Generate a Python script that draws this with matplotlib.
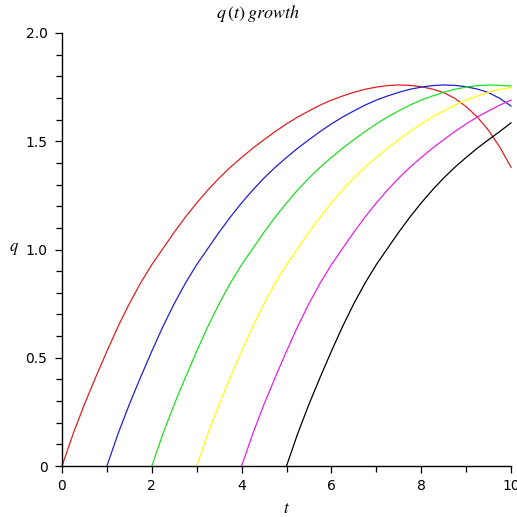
import numpy as np
import matplotlib
matplotlib.use("Agg")
import matplotlib.pyplot as plt
from matplotlib.ticker import MultipleLocator

# Data: q values at t = start, start+0.25, ..., 10
red_t0 = 0.0
red_q = [0, 0.15, 0.285, 0.41, 0.53, 0.645, 0.75, 0.845, 0.93, 1.005,
         1.08, 1.15, 1.215, 1.275, 1.33, 1.38, 1.425, 1.468, 1.507, 1.545,
         1.58, 1.612, 1.64, 1.667, 1.69, 1.709, 1.726, 1.74, 1.75, 1.757,
         1.76, 1.758, 1.752, 1.741, 1.725, 1.698, 1.66, 1.612, 1.55, 1.473,
         1.38]
blue_t0 = 1.0
blue_q = [0, 0.15, 0.285, 0.41, 0.53, 0.645, 0.75, 0.845, 0.93, 1.005,
          1.08, 1.15, 1.215, 1.275, 1.33, 1.38, 1.425, 1.468, 1.507, 1.545,
          1.58, 1.612, 1.64, 1.667, 1.69, 1.709, 1.726, 1.74, 1.75, 1.757,
          1.76, 1.758, 1.752, 1.741, 1.725, 1.698, 1.663]
green_t0 = 2.0
green_q = [0, 0.15, 0.285, 0.41, 0.53, 0.645, 0.75, 0.845, 0.93, 1.005,
           1.08, 1.15, 1.215, 1.275, 1.33, 1.38, 1.425, 1.468, 1.507, 1.545,
           1.58, 1.612, 1.64, 1.667, 1.69, 1.709, 1.726, 1.74, 1.75, 1.757,
           1.76, 1.758, 1.755]
yellow_t0 = 3.0
yellow_q = [0, 0.15, 0.285, 0.41, 0.53, 0.645, 0.75, 0.845, 0.93, 1.005,
            1.08, 1.15, 1.215, 1.275, 1.33, 1.38, 1.425, 1.468, 1.507, 1.545,
            1.58, 1.612, 1.64, 1.667, 1.69, 1.709, 1.726, 1.74, 1.748]
magenta_t0 = 4.0
magenta_q = [0, 0.15, 0.285, 0.41, 0.53, 0.645, 0.75, 0.845, 0.93, 1.005,
             1.08, 1.15, 1.215, 1.275, 1.33, 1.38, 1.425, 1.468, 1.507, 1.545,
             1.58, 1.612, 1.64, 1.667, 1.69]
black_t0 = 5.0
black_q = [0, 0.15, 0.285, 0.41, 0.53, 0.645, 0.75, 0.845, 0.93, 1.005,
           1.08, 1.15, 1.215, 1.275, 1.33, 1.38, 1.425, 1.468, 1.507, 1.545,
           1.585]

series = [
    (red_t0, red_q, "#e02020"),
    (blue_t0, blue_q, "#2020d0"),
    (green_t0, green_q, "#20e020"),
    (yellow_t0, yellow_q, "#ffff10"),
    (magenta_t0, magenta_q, "#e820e8"),
    (black_t0, black_q, "#000000"),
]
step = 0.25

x_ticks = [0, 2, 4, 6, 8, 10]
x_tick_labels = ["0", "2", "4", "6", "8", "10"]
y_ticks = [0, 0.5, 1.0, 1.5, 2.0]
y_tick_labels = ["0", "0.5", "1.0", "1.5", "2.0"]

plt.rcParams['mathtext.fontset'] = 'stix'

fig = plt.figure(figsize=(5.17, 5.17), dpi=100)
ax = fig.add_axes([62/517, 51/517, 449/517, 433/517])

for t0, q, c in series:
    t = t0 + step * np.arange(len(q))
    ax.plot(t, q, color=c, lw=0.9, clip_on=False)

ax.set_xlim(0, 10)
ax.set_ylim(0, 2.0)
for s in ["top", "right"]:
    ax.spines[s].set_visible(False)
for s in ["left", "bottom"]:
    ax.spines[s].set_linewidth(1.0)
    ax.spines[s].set_color("black")

ax.set_xticks(x_ticks)
ax.set_xticklabels(x_tick_labels)
ax.set_yticks(y_ticks)
ax.set_yticklabels(y_tick_labels)
ax.xaxis.set_minor_locator(MultipleLocator(1))
ax.yaxis.set_minor_locator(MultipleLocator(0.1))
ax.tick_params(which="major", direction="out", length=5, width=0.9,
               labelsize=10, colors="black")
ax.tick_params(axis="y", which="major", pad=5.5)
ax.tick_params(axis="x", which="major", pad=4)
ax.tick_params(which="minor", direction="out", length=4, width=0.9)

fig.text(0.5, 1 - 13/517, r"$q\,(t)\;growth$", ha="center", va="center", fontsize=13)
fig.text(14/517, 1 - 248/517, r"$q$", ha="center", va="center", fontsize=12)
fig.text(286/517, 1 - 508/517, r"$t$", ha="center", va="center", fontsize=12)

fig.savefig("out.png", dpi=100)
